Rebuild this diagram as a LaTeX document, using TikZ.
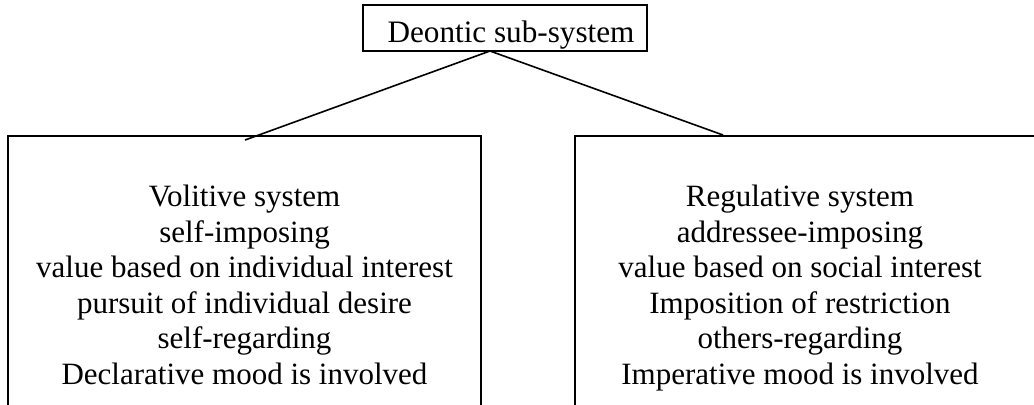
\documentclass[tikz,border=0pt]{standalone}
\usepackage{fontspec}
\setmainfont{Liberation Serif}
\usetikzlibrary{positioning}

\begin{document}
\begin{tikzpicture}[x=0.5pt,y=-0.5pt,
  sysbox/.style={draw=black,line width=1pt,inner sep=0pt},
  sysbody/.style={align=center,inner sep=0pt,font=\fontsize{15.5}{17.75}\selectfont}]
\useasboundingbox (0,0) rectangle (1034,404);

\node[sysbox,minimum width=142pt,text height=18.5pt,text depth=4.5pt,font=\fontsize{15.6}{17.75}\selectfont] (deontic) at (505,28) {\hspace*{6pt}Deontic sub-system};
\node[sysbox,anchor=north west,minimum width=236.5pt,minimum height=160pt] (volitive) at (7,135) {};
\node[sysbox,anchor=north west,minimum width=233pt,minimum height=160pt] (regulative) at (574,135) {};

\node[sysbody,below=25pt of volitive.north] (voltext) {Volitive system\\ self-imposing\\ value based on individual interest\\ pursuit of individual desire\\ self-regarding\\ Declarative mood is involved};
\node[sysbody,below=25pt of regulative.north,xshift=-4pt] (regtext) {Regulative system\\ addressee-imposing\\ value based on social interest\\ Imposition of restriction\\ others-regarding\\ Imperative mood is involved};

\coordinate (apex) at (490,51);
\coordinate (lefttip) at (245,140);
\coordinate (righttip) at (723,135);
\path [-,draw,line width=0.8pt] (apex) edge (lefttip);
\path [-,draw,line width=0.8pt] (apex) edge (righttip);
\end{tikzpicture}
\end{document}
